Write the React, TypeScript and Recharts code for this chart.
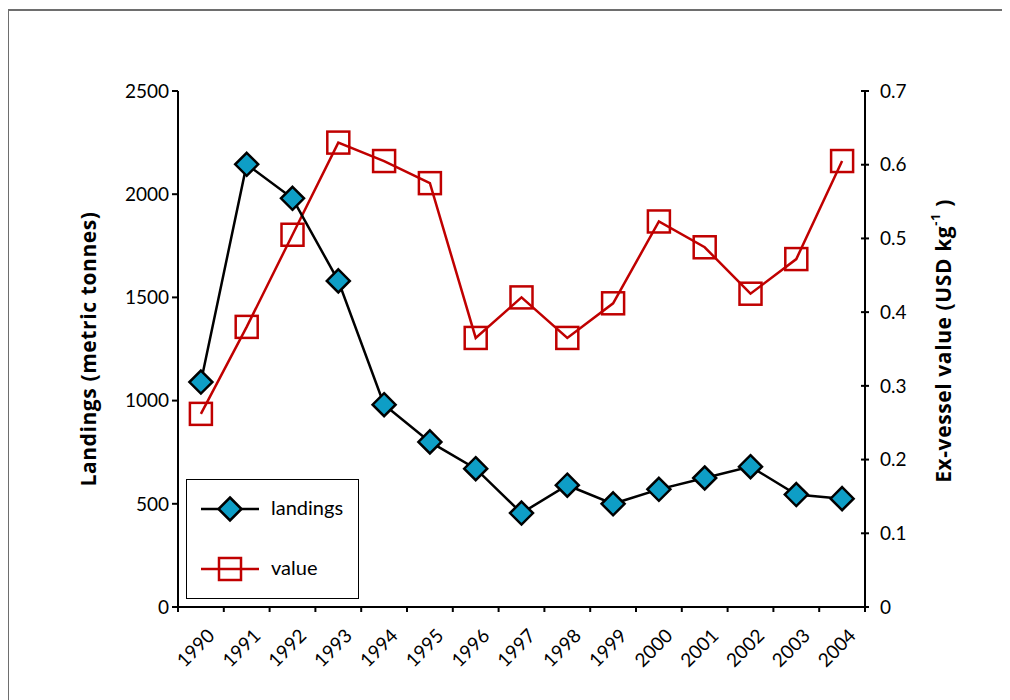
import { LineChart, Line, XAxis, YAxis } from 'recharts'

const years = [1990, 1991, 1992, 1993, 1994, 1995, 1996, 1997, 1998, 1999, 2000, 2001, 2002, 2003, 2004]
const landings = [1090, 2145, 1980, 1580, 980, 800, 670, 455, 590, 500, 570, 625, 680, 545, 525]
const value = [0.262, 0.38, 0.505, 0.63, 0.605, 0.575, 0.365, 0.42, 0.365, 0.412, 0.523, 0.488, 0.425, 0.472, 0.605]
const leftTicks = [0, 500, 1000, 1500, 2000, 2500]
const rightTicks = [0, 0.1, 0.2, 0.3, 0.4, 0.5, 0.6, 0.7]

const FONT = 'Lato, "Open Sans", sans-serif'
const TITLE_FONT = '"Open Sans", Lato, sans-serif'
const RED = '#c00000'
const TEAL = '#0e9ec6'

const data = years.map((y, i) => ({ year: y, landings: landings[i], value: value[i] }))

// tick marks sit between categories, labels sit on them
const boundaries = [...years.map((y) => y - 0.5), years[years.length - 1] + 0.5]
const xTicks = [...boundaries, ...years].sort((a, b) => a - b)

const Diamond = (props: any) => {
  const { cx, cy } = props
  if (cx == null || cy == null) return null
  const r = 11.5
  return (
    <polygon
      points={`${cx},${cy - r} ${cx + r},${cy} ${cx},${cy + r} ${cx - r},${cy}`}
      fill={TEAL}
      stroke="#000"
      strokeWidth={2.5}
    />
  )
}

const Square = (props: any) => {
  const { cx, cy } = props
  if (cx == null || cy == null) return null
  return <rect x={cx - 11} y={cy - 11} width={22} height={22} fill="none" stroke={RED} strokeWidth={2.5} />
}

const YearTick = (props: any) => {
  const { x, y, payload } = props
  const v = payload.value
  if (!Number.isInteger(v)) {
    return <line x1={x} y1={y} x2={x} y2={y + 5} stroke="#000" strokeWidth={2} />
  }
  const ax = x + 15
  const ay = y + 30
  return (
    <text x={ax} y={ay} textAnchor="end" fontSize={19} fontFamily={FONT} fill="#000" transform={`rotate(-45, ${ax}, ${ay})`}>
      {v}
    </text>
  )
}

const RightTick = (props: any) => {
  const { x, y, payload } = props
  return (
    <g>
      <line x1={x - 4} y1={y} x2={x + 4} y2={y} stroke="#000" strokeWidth={2} />
      <text x={x + 15} y={y} dy="0.35em" textAnchor="start" fontSize={19} fontFamily={FONT} fill="#000">
        {payload.value}
      </text>
    </g>
  )
}

const LeftTitle = (props: any) => {
  const { viewBox } = props
  const cx = viewBox.x - 20
  const cy = viewBox.y + viewBox.height / 2
  return (
    <text x={cx} y={cy} textAnchor="middle" dominantBaseline="central" fontSize={21} letterSpacing={0.6} fontWeight="bold" fontFamily={TITLE_FONT} transform={`rotate(-90, ${cx}, ${cy})`}>
      Landings (metric tonnes)
    </text>
  )
}

const RightTitle = (props: any) => {
  const { viewBox } = props
  const cx = viewBox.x + 78
  const cy = viewBox.y + viewBox.height / 2 - 8
  return (
    <text x={cx} y={cy} textAnchor="middle" dominantBaseline="central" fontSize={21} letterSpacing={0.6} fontWeight="bold" fontFamily={TITLE_FONT} transform={`rotate(-90, ${cx}, ${cy})`}>
      Ex-vessel value (USD kg
      <tspan fontSize={13} dy={-8}>-1</tspan>
      <tspan dy={8}> )</tspan>
    </text>
  )
}

export default function App() {
  return (
    <div style={{ position: 'relative', width: 1000, height: 692, fontFamily: FONT }}>
      <div style={{ position: 'absolute', left: -1, top: 1, width: 1001, height: 700, border: '2px solid #6e6e6e', boxSizing: 'border-box' }} />
      <LineChart width={1000} height={692} data={data} margin={{ top: 83, right: 73, left: 100, bottom: 13 }}>
        <XAxis
          dataKey="year"
          type="number"
          domain={[1989.5, 2004.5]}
          ticks={xTicks}
          interval={0}
          tickSize={0}
          tickMargin={0}
          tickLine={false}
          tick={<YearTick />}
          height={80}
          axisLine={{ stroke: '#000', strokeWidth: 2 }}
        />
        <YAxis
          yAxisId="left"
          domain={[0, 2500]}
          ticks={leftTicks}
          width={70}
          tickSize={6}
          tickMargin={3}
          tickLine={{ stroke: '#000', strokeWidth: 2 }}
          axisLine={{ stroke: '#000', strokeWidth: 2 }}
          tick={{ fill: '#000', fontSize: 19, fontFamily: FONT }}
          label={<LeftTitle />}
        />
        <YAxis
          yAxisId="right"
          orientation="right"
          domain={[0, 0.7]}
          ticks={rightTicks}
          width={70}
          tickSize={0}
          tickMargin={0}
          tickLine={false}
          axisLine={{ stroke: '#000', strokeWidth: 2 }}
          tick={<RightTick />}
          label={<RightTitle />}
        />
        <Line yAxisId="right" dataKey="value" stroke={RED} strokeWidth={2.5} dot={<Square />} isAnimationActive={false} />
        <Line yAxisId="left" dataKey="landings" stroke="#000" strokeWidth={2.5} dot={<Diamond />} isAnimationActive={false} />
      </LineChart>
      <div style={{ position: 'absolute', left: 178, top: 471, width: 173, height: 120, border: '1.5px solid #000', boxSizing: 'border-box', background: '#fff' }}>
        <svg width={80} height={120} style={{ position: 'absolute', left: 0, top: 0 }}>
          <line x1={14} y1={29} x2={72} y2={29} stroke="#000" strokeWidth={2.5} />
          <Diamond cx={43} cy={29} />
          <line x1={14} y1={89} x2={72} y2={89} stroke={RED} strokeWidth={2.5} />
          <Square cx={43} cy={89} />
        </svg>
        <div style={{ position: 'absolute', left: 84, top: 15, fontSize: 20 }}>landings</div>
        <div style={{ position: 'absolute', left: 84, top: 75, fontSize: 20 }}>value</div>
      </div>
    </div>
  )
}
